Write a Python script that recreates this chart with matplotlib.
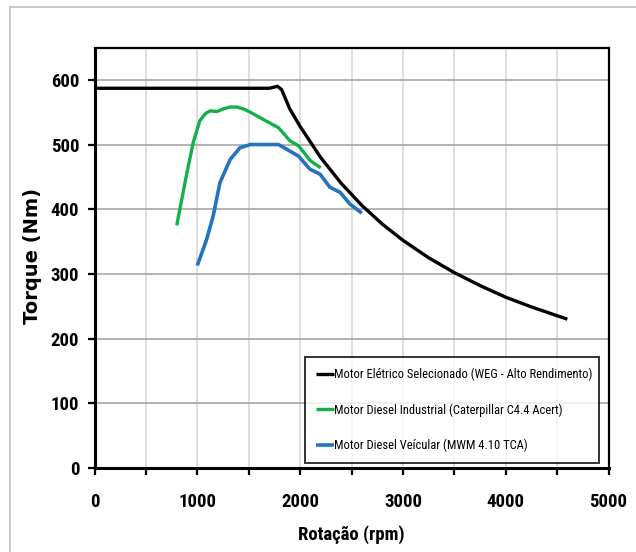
import matplotlib.pyplot as plt
from matplotlib import font_manager
from matplotlib.patches import Rectangle
from matplotlib.ticker import MultipleLocator

# Motor Elétrico Selecionado (WEG - Alto Rendimento)
eletrico_rpm = [0, 500, 1000, 1500, 1700, 1780, 1820, 1900, 2000, 2200, 2400,
                2600, 2800, 3000, 3250, 3500, 3750, 4000, 4250, 4600]
eletrico_nm = [587, 587, 587, 587, 587, 590, 585, 555, 528, 480, 440,
               406, 377, 352, 325, 302, 282, 264, 249, 230]

# Motor Diesel Industrial (Caterpillar C4.4 Acert)
industrial_rpm = [800, 900, 960, 1025, 1080, 1125, 1190, 1250, 1320, 1385,
                  1450, 1515, 1640, 1790, 1900, 1985, 2100, 2200]
industrial_nm = [375, 457, 503, 537, 548, 552, 551, 555, 558, 558,
                 555, 550, 539, 526, 506, 498, 475, 464]

# Motor Diesel Veícular (MWM 4.10 TCA)
veicular_rpm = [1000, 1090, 1155, 1220, 1320, 1415, 1515, 1650, 1790, 1900,
                1985, 2095, 2195, 2290, 2390, 2485, 2600]
veicular_nm = [313, 353, 390, 441, 477, 495, 500, 500, 500, 490,
               482, 462, 454, 434, 426, 408, 394]

labels = [
    "Motor Elétrico Selecionado (WEG - Alto Rendimento)",
    "Motor Diesel Industrial (Caterpillar C4.4 Acert)",
    "Motor Diesel Veícular (MWM 4.10 TCA)",
]

# narrow font like Calibri if one is there
installed = {f.name for f in font_manager.fontManager.ttflist}
narrow = "Lato"
for name in ("Liberation Sans Narrow", "Roboto Condensed", "Open Sans Condensed",
             "Lato"):
    if name in installed:
        narrow = name
        break
plt.rcParams["font.family"] = [narrow, "DejaVu Sans"]

fig = plt.figure(figsize=(6.36, 5.52), dpi=100)
fig.patches.append(Rectangle((10 / 636, -0.1), 1.2, 1 - 7 / 552 + 0.1,
                             transform=fig.transFigure, fill=False,
                             edgecolor="#BFBFBF", linewidth=1.2))

ax = fig.add_axes([94.5 / 636, 1 - 468 / 552, 514 / 636, 420.5 / 552])

ax.plot(eletrico_rpm, eletrico_nm, color="black", lw=2.4, label=labels[0],
        solid_joinstyle="round", solid_capstyle="butt", zorder=4)
ax.plot(industrial_rpm, industrial_nm, color="#12B04A", lw=2.4, label=labels[1],
        solid_joinstyle="round", solid_capstyle="butt", zorder=3)
ax.plot(veicular_rpm, veicular_nm, color="#2473BE", lw=2.6, label=labels[2],
        solid_joinstyle="round", solid_capstyle="butt", zorder=3)

ax.set_xlim(0, 5000)
ax.set_ylim(0, 650)
ax.xaxis.set_major_locator(MultipleLocator(1000))
ax.xaxis.set_minor_locator(MultipleLocator(500))
ax.yaxis.set_major_locator(MultipleLocator(100))

ax.grid(True, axis="x", which="both", color="#D9D9D9", lw=1.2)
ax.grid(True, axis="y", which="major", color="#A6A6A6", lw=1.2)
ax.set_axisbelow(True)

for side in ("left", "bottom"):
    ax.spines[side].set_linewidth(2.2)
for side in ("top", "right"):
    ax.spines[side].set_linewidth(1.6)

ax.tick_params(axis="both", which="both", direction="out", length=5, width=1.6,
               labelsize=13.5, pad=6)
ax.tick_params(axis="x", pad=13)
for lab in ax.get_xticklabels() + ax.get_yticklabels():
    lab.set_fontweight("bold")

ax.set_xlabel("Rotação (rpm)", fontsize=13.5, fontweight="bold", labelpad=10)
ax.set_ylabel("Torque (Nm)", fontsize=14, fontweight="bold",
              family=["DejaVu Sans"])
ax.yaxis.set_label_coords((41.5 - 94.5) / 514, (468 - 256) / 420.5)

leg = ax.legend(loc="center", bbox_to_anchor=(0.4095, 0.007, 0.572, 0.262),
                mode="expand", fontsize=9, frameon=True, fancybox=False,
                edgecolor="black", handlelength=1.4, handletextpad=0.0,
                labelspacing=1.75, borderpad=0.9, borderaxespad=0)
leg.get_frame().set_linewidth(1.4)
leg.set_zorder(5)

fig.savefig("out.png", dpi=100)
